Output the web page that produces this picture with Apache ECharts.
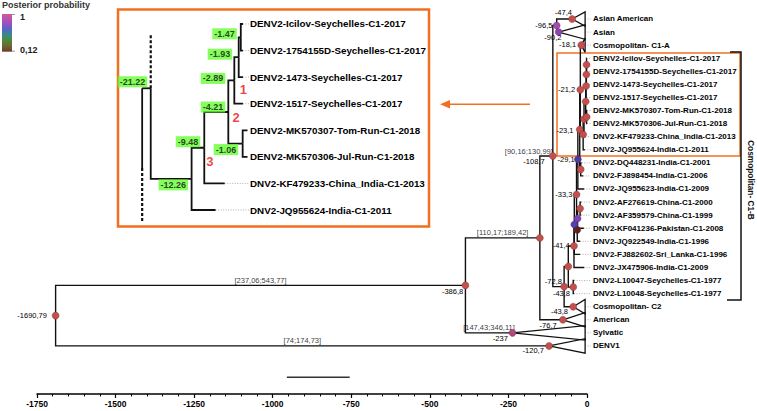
<!DOCTYPE html>
<html><head><meta charset="utf-8">
<script src="https://cdn.jsdelivr.net/npm/echarts@6/dist/echarts.min.js"></script>
<style>html,body{margin:0;padding:0;background:#fff}#c{width:757px;height:411px}</style>
</head><body><div id="c"></div>
<script>
// ================= DATA =================
// Main tree: leaf rows (top to bottom)
const leafLabels = ['Asian American','Asian','Cosmopolitan- C1-A','DENV2-Icilov-Seychelles-C1-2017','DENV2-1754155D-Seychelles-C1-2017','DENV2-1473-Seychelles-C1-2017','DENV2-1517-Seychelles-C1-2017','DENV2-MK570307-Tom-Run-C1-2018','DENV2-MK570306-Jul-Run-C1-2018','DNV2-KF479233-China_India-C1-2013','DNV2-JQ955624-India-C1-2011','DNV2-DQ448231-India-C1-2001','DNV2-FJ898454-India-C1-2006','DNV2-JQ955623-India-C1-2009','DNV2-AF276619-China-C1-2000','DNV2-AF359579-China-C1-1999','DNV2-KF041236-Pakistan-C1-2008','DNV2-JQ922549-India-C1-1996','DNV2-FJ882602-Sri_Lanka-C1-1996','DNV2-JX475906-India-C1-2009','DNV2-L10047-Seychelles-C1-1977','DNV2-L10048-Seychelles-C1-1977','Cosmopolitan- C2','American','Sylvatic','DENV1'];
// internal nodes (ages in years before present)
const nodeIds     = ['root','D1','n387','SYL','nX','n109','AM','n97','AA','AS','n73','n60','C2','n41','nL','n40','n33','n29','n31','nP','nR','n23','n21','nDQ','C1A','n12','n9','n4','n2','n1','n19','n14'];
const nodeAges    = [-1690.79,-120.7,-386.8,-237,-150,-108.7,-76.7,-96.5,-47.4,-90.2,-72.8,-59.5,-43.87,-41.4,-43.8,-40.4,-33.3,-29.1,-31,-30,-22,-23.1,-21.2,-20,-18.1,-12.26,-9.48,-4.21,-2.89,-1.06,-1.93,-1.47];
const nodeParents = [null,'root','root','n387','n387','nX','nX','n109','n97','n97','n109','n73','n73','n60','n60','n41','n40','n33','n33','n31','nP','n29','n23','n23','n21','n21','n12','n9','n4','n4','n2','n19'];
const nodeLabels  = ['-1690,79','-120,7','-386,8','-237','','-108,7','-76,7','-96,5','-47,4','-90,2','-72,8','','-43,8','-41,4','-43,8','','-33,3','-29,1','','','','-23,1','-21,2','','-18,1','','','','','','',''];
// collapsed clades (triangles)
const cladeNodes   = ['AA','AS','C1A','C2','AM','SYL','D1'];
const cladeNames   = ['Asian American','Asian','Cosmopolitan- C1-A','Cosmopolitan- C2','American','Sylvatic','DENV1'];
const cladeTipAges = [-6,-6,-6,-6,-6,-6,-6];
// individual tips
const tipNames   = leafLabels.slice(3, 22);
const tipParents = ['n14','n14','n19','n2','n1','n1','n9','n12','nDQ','nDQ','n29','nR','nR','nP','n31','n40','n41','nL','nL'];
const tipAges    = [-1,-1,-1,-1,0,0,-5,-7,-17,-12,-9,-18,-19,-10,-22,-22,-9,-41,-41];
// HPD intervals on branches
const hpdTexts = ['[237,06;543,77]','[74;174,73]','[147,43;346,11]','[110,17;189,42]','[90,16;130,99]'];
const hpdNodes = ['n387','D1','SYL','nX','n109'];
// x-axis ticks
const tickValues = [-1750,-1500,-1250,-1000,-750,-500,-250,0];
const tickLabels = ['-1750','-1500','-1250','-1000','-750','-500','-250','0'];
// scale bar
const scaleBarStart = -955, scaleBarLength = 200, scaleBarText = '200.0';

// Inset (zoomed clade)
const insetLabels = ['DENV2-Icilov-Seychelles-C1-2017','DENV2-1754155D-Seychelles-C1-2017','DENV2-1473-Seychelles-C1-2017','DENV2-1517-Seychelles-C1-2017','DENV2-MK570307-Tom-Run-C1-2018','DENV2-MK570306-Jul-Run-C1-2018','DNV2-KF479233-China_India-C1-2013','DNV2-JQ955624-India-C1-2011'];
const insetNodeIds     = ['i21','i12','i9','i4','i2','i1','i19','i14'];
const insetNodeAges    = [-21.22,-12.26,-9.48,-4.21,-2.89,-1.06,-1.93,-1.47];
const insetNodeParents = [null,'i21','i12','i9','i4','i4','i2','i19'];
const insetNodeLabels  = ['-21.22','-12.26','-9.48','-4.21','-2.89','-1.06','-1.93','-1.47'];
const insetTipParents  = ['i14','i14','i19','i2','i1','i1','i9','i12'];
const insetTipAges     = [-1,-1,-1,-1,0,0,-5,-7];
const insetMarks       = ['1','2','3'];
const insetMarkNodes   = ['i2','i4','i9'];
// context of the inset root (sibling clade above, parent node -23.1 outside)
const insetParentAge = -23.1, insetSiblingRow = -0.99;

// ================= STYLE =================
const FONT = '"Liberation Sans",Arial,sans-serif';
const DOT = '#c4504e';
const dotColor = {n97:'#a04cb0', AS:'#8a44b8', SYL:'#b04a80', n40:'#4a44c4', n29:'#4a3ab0', nP:'#7a44c0', n31:'#5a2222'};
// text right edge / centre offsets relative to node (px)
const nodeLabelOff = {root:[-8.5,0], D1:[-5,5], n387:[-2,6], SYL:[-4.5,6], AM:[-6,5.5], n109:[-8,6], n97:[-4,0], AA:[0,-6], AS:[3,6], n73:[-2,-5], C2:[-5,5.5], nL:[-3,7], n41:[-4,0], n33:[-4,0], n29:[-3,0], n23:[-6,1], n21:[-5,0], C1A:[-5,0]};
const insetLabelOff = {i14:[-4,-3.5], i19:[-6.5,-3], i2:[-9,-2], i4:[-3,-5], i1:[-4.5,6], i9:[-4,-6], i12:[-3.5,6], i21:[-3.5,-6.5]};
const insetMarkOff = {i2:[9,9.5], i4:[7.7,5], i9:[5.7,14]};
const TRI = 0.55, DOT_END = 12, INSET_DOT_END = 0.4;

// ================= LAYOUT =================
function layout(ids, parents, tipPar, tipRows, fixedRows, extra) {
  const kids = {}; ids.forEach(id => kids[id] = []);
  ids.forEach((id, i) => { if (parents[i]) kids[parents[i]].push(() => yOf(id)); });
  tipPar.forEach((p, k) => kids[p].push(() => tipRows[k]));
  Object.keys(extra || {}).forEach(p => kids[p].push(() => extra[p]));
  const Y = {};
  function yOf(id) {
    if (id in Y) return Y[id];
    if (fixedRows[id] !== undefined) return (Y[id] = fixedRows[id]);
    const ys = kids[id].map(f => f());
    return (Y[id] = (Math.min(...ys) + Math.max(...ys)) / 2);
  }
  ids.forEach(yOf);
  return Y;
}
const rowOf = n => leafLabels.indexOf(n);
const fixed = {}; cladeNodes.forEach((id, k) => fixed[id] = rowOf(cladeNames[k]));
const tipRows = tipNames.map(rowOf);
const Y = layout(nodeIds, nodeParents, tipParents, tipRows, fixed);
const age = {}; nodeIds.forEach((id, i) => age[id] = nodeAges[i]);

const edges = [], tris = [], dots = [];
nodeIds.forEach((id, i) => { const p = nodeParents[i]; if (!p) return;
  edges.push([[age[p], Y[p]], [age[p], Y[id]], [age[id], Y[id]]]); });
tipNames.forEach((n, k) => { const p = tipParents[k], r = tipRows[k];
  edges.push([[age[p], Y[p]], [age[p], r], [tipAges[k], r]]);
  dots.push([[tipAges[k], r], [DOT_END, r]]); });
cladeNodes.forEach((id, k) => { const r = Y[id], t = cladeTipAges[k];
  tris.push([[age[id], r], [t, r - TRI], [t, r + TRI], [age[id], r]]);
  dots.push([[t, r], [DOT_END, r]]); });

const nodeData = nodeIds.map((id, i) => {
  const o = nodeLabelOff[id] || [-4, 0];
  return { value: [age[id], Y[id]], itemStyle: { color: dotColor[id] || DOT },
    label: { show: !!nodeLabels[i], formatter: nodeLabels[i], position: [3.5 + o[0], 3.5 + o[1]], align: 'right', verticalAlign: 'middle' } };
});
const hpdData = hpdTexts.map((t, k) => {
  const id = hpdNodes[k], p = nodeParents[nodeIds.indexOf(id)];
  const end = id === 'n109';
  return { value: [end ? age[id] : (age[p] + age[id]) / 2, Y[id]],
    label: { formatter: t, align: end ? 'right' : 'center' } };
});

// inset layout
const iAge = {}; insetNodeIds.forEach((id, i) => iAge[id] = insetNodeAges[i]);
const iTipRows = insetLabels.map((_, k) => k);
const IY = layout(insetNodeIds, insetNodeParents, insetTipParents, iTipRows, {}, { i21: insetSiblingRow });
const iEdges = [], iDots = [];
insetNodeIds.forEach((id, i) => { const p = insetNodeParents[i]; if (!p) return;
  iEdges.push([[iAge[p], IY[p]], [iAge[p], IY[id]], [iAge[id], IY[id]]]); });
insetTipParents.forEach((p, k) => { const r = iTipRows[k];
  iEdges.push([[iAge[p], IY[p]], [iAge[p], r], [insetTipAges[k], r]]);
  if (insetTipAges[k] < INSET_DOT_END - 0.5) iDots.push([[insetTipAges[k], r], [INSET_DOT_END, r]]); });
// inset root context: branch from parent (-23.1) and continuation stubs
const rY = IY.i21;
iEdges.push([[insetParentAge, rY], [iAge.i21, rY]]);
iEdges.push([[insetParentAge, rY], [insetParentAge, 5.42]]);
const iDashed = [[[iAge.i21, rY], [iAge.i21, 0.41]], [[insetParentAge, 5.42], [insetParentAge, 7.45]]];
const iLabelData = insetNodeIds.map((id, i) => {
  const o = insetLabelOff[id];
  return { value: [iAge[id], IY[id]], label: { formatter: insetNodeLabels[i], position: [o[0], o[1]], align: 'right', verticalAlign: 'middle' } };
});
const iMarkData = insetMarks.map((m, k) => {
  const id = insetMarkNodes[k], o = insetMarkOff[id];
  return { value: [iAge[id], IY[id]], label: { formatter: m, position: [o[0], o[1]], align: 'center', verticalAlign: 'middle' } };
});

// ================= CHART =================
const chart = echarts.init(document.getElementById('c'), null, { renderer: 'svg' });
const lineS = (data, xi, yi, style, z) => ({ type: 'lines', coordinateSystem: 'cartesian2d', xAxisIndex: xi, yAxisIndex: yi,
  polyline: true, clip: false, silent: true, z: z || 2, lineStyle: Object.assign({ opacity: 1, curveness: 0 }, style),
  data: data.map(c => ({ coords: c })) });

chart.setOption({
  animation: false,
  textStyle: { fontFamily: FONT },
  grid: [
    { left: 37, top: 12.46, width: 550, height: 340 },
    { left: 133.5, top: 10.7, width: 114, height: 212.6 }
  ],
  xAxis: [
    { type: 'value', gridIndex: 0, min: -1750, max: 0, interval: 250, offset: 41.5, position: 'bottom',
      axisLine: { onZero: false, lineStyle: { color: '#000', width: 1.5 } },
      axisTick: { length: 4, lineStyle: { color: '#000', width: 1.2 } },
      minorTick: { show: true, splitNumber: 5, length: 2.5, lineStyle: { color: '#000', width: 1 } },
      splitLine: { show: false },
      axisLabel: { margin: 6, fontSize: 8.5, fontWeight: 'bold', color: '#000', fontFamily: FONT,
        formatter: v => tickLabels[tickValues.indexOf(v)] } },
    { type: 'value', gridIndex: 1, min: -25, max: 0, show: false, axisLine: { onZero: false } }
  ],
  yAxis: [
    { type: 'value', gridIndex: 0, min: -0.5, max: 25.5, inverse: true, show: false, axisLine: { onZero: false } },
    { type: 'category', gridIndex: 0, data: leafLabels, inverse: true, position: 'right',
      axisLine: { show: false, onZero: false }, axisTick: { show: false }, splitLine: { show: false },
      axisLabel: { interval: 0, margin: 6, fontSize: 8, fontWeight: 'bold', color: '#000', fontFamily: FONT } },
    { type: 'value', gridIndex: 1, min: -0.5, max: 7.5, inverse: true, show: false, axisLine: { onZero: false } },
    { type: 'category', gridIndex: 1, data: insetLabels, inverse: true, position: 'right',
      axisLine: { show: false, onZero: false }, axisTick: { show: false }, splitLine: { show: false },
      axisLabel: { interval: 0, margin: 2.5, fontSize: 9.8, fontWeight: 'bold', color: '#000', fontFamily: FONT } }
  ],
  series: [
    lineS(dots, 0, 0, { color: '#9a9a9a', width: 0.8, type: [1, 1.5] }, 1),
    lineS(edges, 0, 0, { color: '#111', width: 1.4 }, 2),
    lineS(tris, 0, 0, { color: '#111', width: 1.3 }, 2),
    lineS([[[scaleBarStart, 27.4], [scaleBarStart + scaleBarLength, 27.4]]], 0, 0, { color: '#333', width: 1.6 }, 2),
    { type: 'scatter', xAxisIndex: 0, yAxisIndex: 0, symbolSize: 0, silent: true, z: 3,
      data: [{ value: [scaleBarStart + scaleBarLength / 2, 27.4] }],
      label: { show: true, formatter: scaleBarText, position: 'bottom', distance: 3, fontSize: 8.5, fontWeight: 'bold', color: '#111', fontFamily: FONT } },
    { type: 'scatter', xAxisIndex: 0, yAxisIndex: 0, symbolSize: 7, silent: true, z: 5, data: nodeData,
      itemStyle: { borderColor: '#7a2a2a', borderWidth: 0.4, opacity: 1 },
      label: { fontSize: 7.5, color: '#000', fontFamily: FONT } },
    { type: 'scatter', xAxisIndex: 0, yAxisIndex: 0, symbolSize: 0, silent: true, z: 4, data: hpdData,
      label: { show: true, position: 'top', distance: 1, fontSize: 7.5, color: '#000', fontFamily: FONT } },
    // inset
    lineS(iDots, 1, 2, { color: '#aaa', width: 0.9, type: [1, 1.5] }, 1),
    lineS(iEdges, 1, 2, { color: '#111', width: 1.8 }, 2),
    lineS(iDashed, 1, 2, { color: '#111', width: 2.2, type: [3, 2] }, 2),
    { type: 'scatter', xAxisIndex: 1, yAxisIndex: 2, symbolSize: 0, silent: true, z: 6, data: iLabelData,
      label: { show: true, fontSize: 9, fontWeight: 'bold', color: '#111', backgroundColor: '#66ff33', padding: [1, 2], fontFamily: FONT } },
    { type: 'scatter', xAxisIndex: 1, yAxisIndex: 2, symbolSize: 0, silent: true, z: 6, data: iMarkData,
      label: { show: true, fontSize: 13, fontWeight: 'bold', color: '#ee1111', fontFamily: FONT } }
  ],
  graphic: [
    { type: 'text', left: 2, top: 0, style: { text: 'Posterior probability', font: 'bold 9px ' + FONT, fill: '#333' } },
    { type: 'rect', shape: { x: 2, y: 14, width: 10, height: 37.7 }, style: { fill: { type: 'linear', x: 0, y: 0, x2: 0, y2: 1,
      colorStops: [{ offset: 0, color: '#d4589a' }, { offset: 0.25, color: '#9a50c2' }, { offset: 0.42, color: '#5068c4' }, { offset: 0.55, color: '#3a8a8c' }, { offset: 0.68, color: '#4a8c3e' }, { offset: 0.84, color: '#6e6a2e' }, { offset: 1, color: '#6a3c2c' }] } } },
    { type: 'line', shape: { x1: 12, y1: 14.5, x2: 15, y2: 14.5 }, style: { stroke: '#999', lineWidth: 1 } },
    { type: 'line', shape: { x1: 12, y1: 51.2, x2: 15, y2: 51.2 }, style: { stroke: '#999', lineWidth: 1 } },
    { type: 'text', x: 20, y: 16.7, style: { text: '1', font: 'bold 9px ' + FONT, fill: '#222', verticalAlign: 'middle' } },
    { type: 'text', x: 20, y: 50, style: { text: '0,12', font: 'bold 9px ' + FONT, fill: '#222', verticalAlign: 'middle' } },
    // inset frame
    { type: 'rect', shape: { x: 118, y: 9.5, width: 311, height: 217 }, style: { fill: 'none', stroke: '#f07020', lineWidth: 2.5 } },
    // highlighted clade frame
    { type: 'rect', shape: { x: 557, y: 53, width: 183, height: 103 }, style: { fill: 'none', stroke: '#f07020', lineWidth: 1.5 } },
    // arrow
    { type: 'line', shape: { x1: 530, y1: 104.3, x2: 446, y2: 104.3 }, style: { stroke: '#f07020', lineWidth: 1.5 } },
    { type: 'polygon', shape: { points: [[440, 104.3], [450, 100], [450, 108.6]] }, style: { fill: '#f07020' } },
    // C1-B bracket
    { type: 'polyline', shape: { points: [[730, 52], [741, 52], [741, 300], [727, 300]] }, style: { stroke: '#111', lineWidth: 1.5, fill: 'none' } },
    { type: 'text', x: 751, y: 180, rotation: -Math.PI / 2, style: { text: 'Cosmopolitan- C1-B', font: 'bold 8.3px ' + FONT, fill: '#111', align: 'center', verticalAlign: 'middle' } }
  ]
});
</script></body></html>
